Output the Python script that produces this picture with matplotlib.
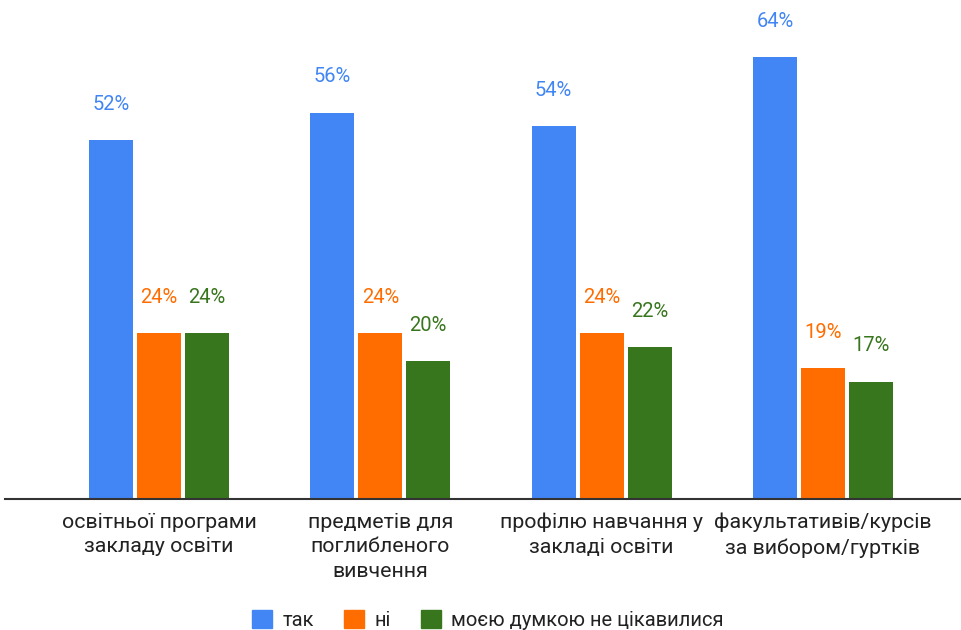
import matplotlib
matplotlib.use("Agg")
import matplotlib.pyplot as plt
import numpy as np

categories = ["освітньої програми\nзакладу освіти",
              "предметів для\nпоглибленого\nвивчення",
              "профілю навчання у\nзакладі освіти",
              "факультативів/курсів\nза вибором/гуртків"]
series_names = ["так", "ні", "моєю думкою не цікавилися"]
tak = [52, 56, 54, 64]
ni = [24, 24, 24, 19]
ne_tsikavylysia = [24, 20, 22, 17]
colors = ["#4285F4", "#FF6D01", "#38761D"]

plt.rcParams['font.family'] = ['Roboto', 'DejaVu Sans']

W, H = 961, 630
fig = plt.figure(figsize=(W / 100, H / 100), dpi=100)
base_px = 499
ax = fig.add_axes([0, (H - base_px) / H, 1, base_px / H])

x = np.arange(len(categories))
spacing = 221.3
bw = 44 / spacing
step = 48 / spacing
ax.set_xlim((0 - 159) / spacing, (961 - 159) / spacing)
ax.set_ylim(0, base_px / 6.9)

for k, (vals, c) in enumerate(zip([tak, ni, ne_tsikavylysia], colors)):
    pos = x + (k - 1) * step
    bars = ax.bar(pos, vals, width=bw, color=c, label=series_names[k], zorder=2)
    for b, v in zip(bars, vals):
        ax.annotate(f"{v}%", (b.get_x() + b.get_width() / 2, v),
                    xytext=(0, 19), textcoords="offset points",
                    ha="center", va="bottom", fontsize=14.5, color=c)

for s in ["top", "right", "left"]:
    ax.spines[s].set_visible(False)
ax.spines["bottom"].set_color("#333333")
ax.spines["bottom"].set_linewidth(1.5)
ax.spines["bottom"].set_bounds((5 - 159) / spacing, (961 - 159) / spacing)
ax.set_yticks([])
ax.set_xticks(x)
ax.set_xticklabels(categories, fontsize=15.4, color="#222222", linespacing=1.37)
ax.tick_params(axis="x", length=0, pad=10)

handles = [plt.Rectangle((0, 0), 1, 1, color=c) for c in colors]
fig.legend(handles, series_names, loc="center", bbox_to_anchor=(488 / W, 1 - 620 / H),
           ncol=3, frameon=False, fontsize=14.5, handlelength=1.0, handleheight=1.0,
           columnspacing=1.5, handletextpad=0.5, labelcolor="#222222")

fig.savefig("out.png", dpi=100)
